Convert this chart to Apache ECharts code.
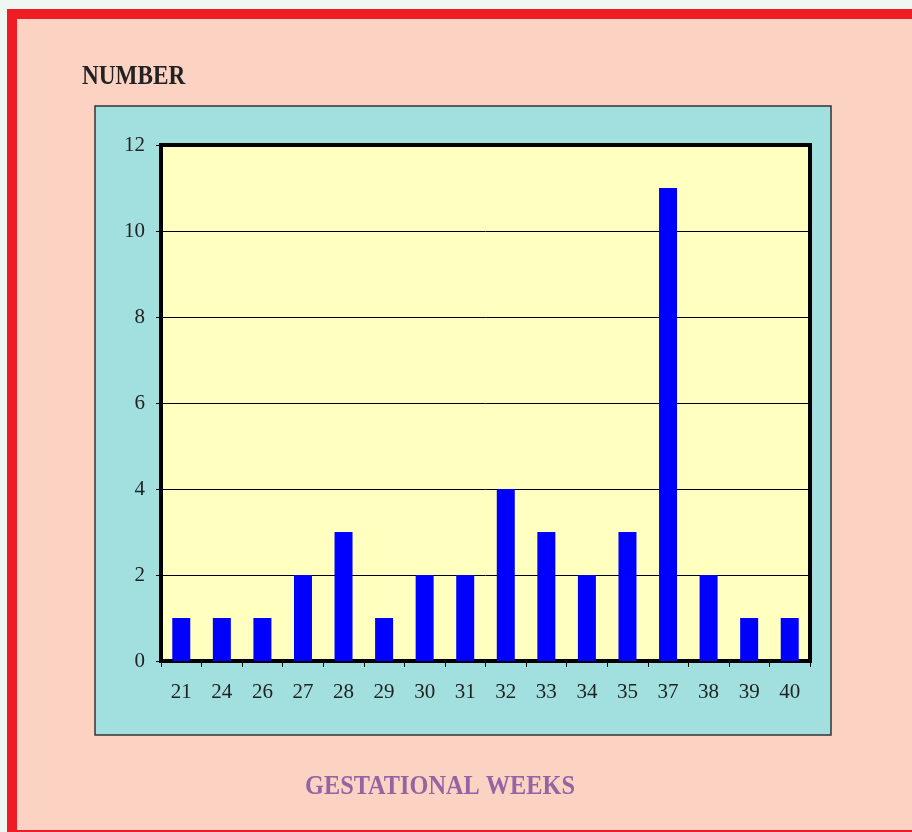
<!DOCTYPE html>
<html>
<head>
<meta charset="utf-8">
<script src="https://cdn.jsdelivr.net/npm/echarts@6/dist/echarts.min.js"></script>
<style>
  html, body { margin: 0; padding: 0; background: #eff7f1; }
  #main { width: 912px; height: 832px; }
</style>
</head>
<body>
<div id="main"></div>
<script>
var weeks = ['21', '24', '26', '27', '28', '29', '30', '31', '32', '33', '34', '35', '37', '38', '39', '40'];
var counts = [1, 1, 1, 2, 3, 1, 2, 2, 4, 3, 2, 3, 11, 2, 1, 1];
var yTicks = { min: 0, max: 12, interval: 2 };

var serif = '"Liberation Serif", "Times New Roman", serif';

option = {
    backgroundColor: '#eff7f1',
    animation: false,
    graphic: [
        // red frame + pink page
        { type: 'rect', z: -10, shape: { x: 7, y: 9, width: 1000, height: 900 }, style: { fill: '#ee1c25' } },
        { type: 'rect', z: -9, shape: { x: 17, y: 19, width: 990, height: 811 }, style: { fill: '#fcd3c2' } },
        // cyan chart panel
        { type: 'rect', z: -8, shape: { x: 95, y: 106, width: 736, height: 629 }, style: { fill: '#a2e0e0', stroke: '#333', lineWidth: 1.5 } },
        {
            type: 'text', x: 82, y: 77, scaleX: 0.86, scaleY: 1.05,
            style: { text: 'NUMBER', x: 0, y: 0, fill: '#222', font: 'bold 27px ' + serif, textAlign: 'left', textVerticalAlign: 'middle' }
        },
        {
            type: 'text', x: 440, y: 787, scaleX: 0.9, scaleY: 1.05,
            style: { text: 'GESTATIONAL WEEKS', x: 0, y: 0, fill: '#9464a4', font: 'bold 27px ' + serif, textAlign: 'center', textVerticalAlign: 'middle' }
        }
    ],
    grid: {
        left: 161, right: 102, top: 145, bottom: 171,
        show: true,
        backgroundColor: '#ffffc0',
        borderColor: '#000',
        borderWidth: 4
    },
    xAxis: {
        type: 'category',
        data: weeks,
        axisLine: { lineStyle: { color: '#000', width: 4 } },
        axisTick: { show: true, length: 6, lineStyle: { color: '#000', width: 1 } },
        axisLabel: { color: '#222', fontFamily: serif, fontSize: 21, margin: 21 }
    },
    yAxis: {
        type: 'value',
        min: yTicks.min,
        max: yTicks.max,
        interval: yTicks.interval,
        axisLine: { show: true, lineStyle: { color: '#000', width: 4 } },
        axisTick: { show: true, length: 5, lineStyle: { color: '#000', width: 1 } },
        axisLabel: { color: '#222', fontFamily: serif, fontSize: 21, margin: 16 },
        splitLine: { lineStyle: { color: '#000', width: 1 } }
    },
    series: [
        {
            type: 'bar',
            data: counts,
            barWidth: 18,
            itemStyle: { color: '#0000ff' }
        }
    ]
};

var myChart = echarts.init(document.getElementById('main'));
myChart.setOption(option);
</script>
</body>
</html>
